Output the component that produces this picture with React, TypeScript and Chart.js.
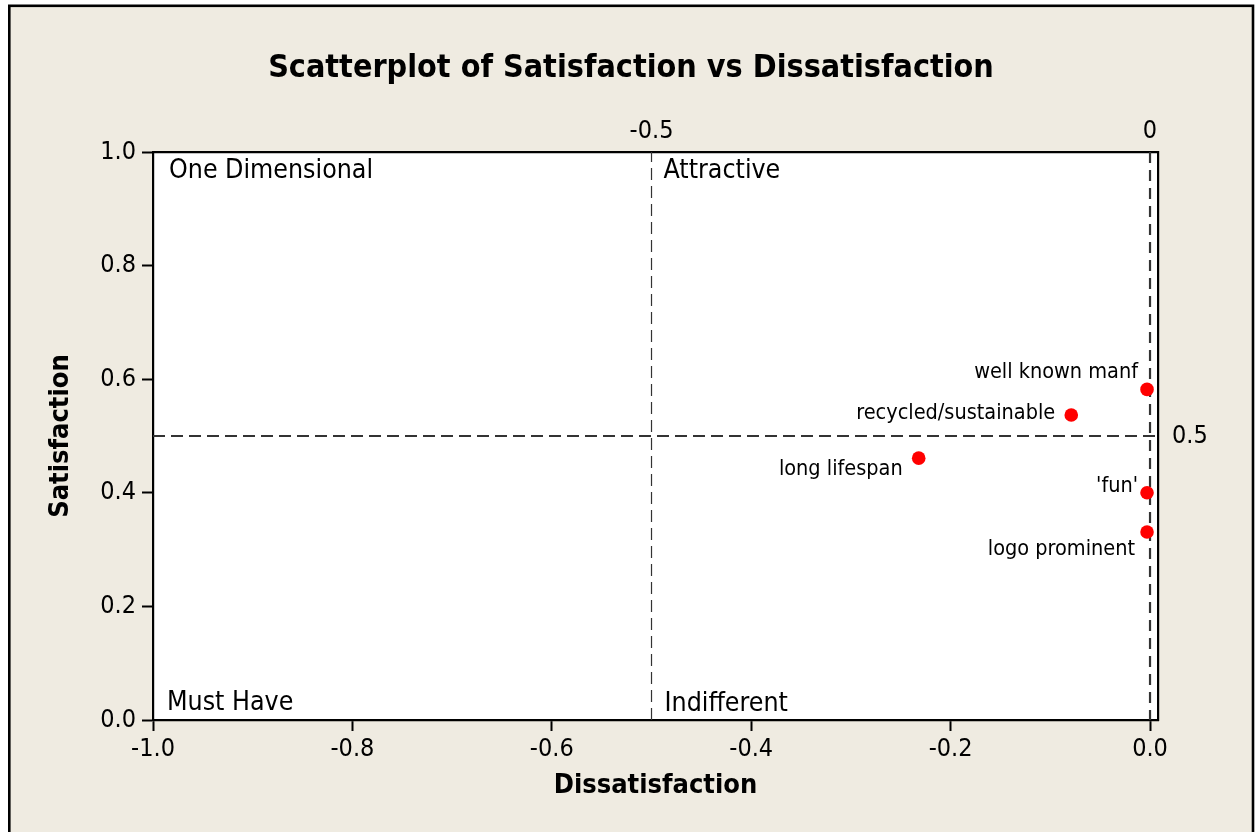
import React, { useEffect, useRef } from "react";
import { Chart, registerables } from "chart.js";

Chart.register(...registerables);

const W = 1255;
const H = 832;
const FONT = "'DejaVu Sans Condensed', 'DejaVu Sans', sans-serif";
const BG = "#EFEBE1";

// ---- data ----
const ITEMS = ["well known manf", "recycled/sustainable", "long lifespan", "'fun'", "logo prominent"];
const DISSATISFACTION = [-0.003, -0.079, -0.232, -0.003, -0.003];
const SATISFACTION = [0.582, 0.537, 0.461, 0.400, 0.331];

const X_MIN = -1.0;
const X_MAX = 0.008;
const Y_MIN = 0;
const Y_MAX = 1;
const X_TICKS = [-1.0, -0.8, -0.6, -0.4, -0.2, 0.0];
const Y_TICKS = [0.0, 0.2, 0.4, 0.6, 0.8, 1.0];
const X_REF = [-0.5, 0];
const Y_REF = [0.5];

const QUADRANTS = ["One Dimensional", "Attractive", "Must Have", "Indifferent"];
const TITLE = "Scatterplot of Satisfaction vs Dissatisfaction";

// label placement relative to its point: [dx, dy] (right-aligned text, baseline)
const LABEL_OFFSETS: [number, number][] = [
  [-9, -11],
  [-16, 4],
  [-16, 17],
  [-9, -1],
  [-12, 23],
];

const decorPlugin = {
  id: "decor",
  beforeDraw(chart: any) {
    const { ctx, chartArea } = chart;
    ctx.save();
    ctx.fillStyle = "#ffffff";
    ctx.fillRect(0, 0, W, H);
    ctx.fillStyle = BG;
    ctx.fillRect(9, 6, 1244, H);
    ctx.strokeStyle = "#000";
    ctx.lineWidth = 2.6;
    ctx.strokeRect(9.3, 5.8, 1243.7, H + 20);
    ctx.fillStyle = "#ffffff";
    ctx.fillRect(chartArea.left, chartArea.top, chartArea.right - chartArea.left, chartArea.bottom - chartArea.top);
    ctx.restore();
  },
  afterDraw(chart: any) {
    const { ctx, chartArea } = chart;
    const xs = chart.scales.x;
    ctx.save();
    // title
    ctx.fillStyle = "#000";
    ctx.font = `bold 32px ${FONT}`;
    ctx.textAlign = "center";
    ctx.textBaseline = "alphabetic";
    ctx.fillText(TITLE, 631, 77);

    // quadrant labels
    ctx.font = `26.5px ${FONT}`;
    ctx.textAlign = "left";
    const xMid = xs.getPixelForValue(X_REF[0]);
    ctx.fillText(QUADRANTS[0], chartArea.left + 16, chartArea.top + 26);
    ctx.fillText(QUADRANTS[1], xMid + 12, chartArea.top + 26);
    ctx.fillText(QUADRANTS[2], chartArea.left + 14, chartArea.bottom - 10);
    ctx.fillText(QUADRANTS[3], xMid + 13, chartArea.bottom - 9);

    // point labels
    const meta = chart.getDatasetMeta(0);
    ctx.font = `21.5px ${FONT}`;
    ctx.textAlign = "right";
    meta.data.forEach((pt: any, i: number) => {
      const [dx, dy] = LABEL_OFFSETS[i];
      ctx.fillText(ITEMS[i], pt.x + dx, pt.y + dy);
    });
    ctx.restore();
  },
};

export default function App() {
  const ref = useRef<HTMLCanvasElement | null>(null);

  useEffect(() => {
    document.body.style.margin = "0";
    if (!ref.current) return;
    Chart.defaults.font.family = FONT;
    const dashCommon = { showLine: true, pointRadius: 0, pointHoverRadius: 0, fill: false, order: 1 };
    const chart = new Chart(ref.current, {
      type: "scatter",
      data: {
        datasets: [
          {
            label: "items",
            data: DISSATISFACTION.map((x, i) => ({ x, y: SATISFACTION[i] })),
            backgroundColor: "#FF0000",
            borderColor: "#FF0000",
            borderWidth: 0,
            pointRadius: 6.8,
            order: 0,
          },
          {
            ...dashCommon,
            label: "h",
            data: [{ x: X_MIN, y: Y_REF[0] }, { x: X_MAX, y: Y_REF[0] }],
            borderColor: "#333333",
            borderWidth: 2.2,
            borderDash: [12, 6],
          },
          {
            ...dashCommon,
            label: "v1",
            data: [{ x: X_REF[0], y: Y_MIN }, { x: X_REF[0], y: Y_MAX }],
            borderColor: "#333333",
            borderWidth: 1.2,
            borderDash: [12, 6],
          },
          {
            ...dashCommon,
            label: "v2",
            data: [{ x: X_REF[1], y: Y_MAX }, { x: X_REF[1], y: Y_MIN }],
            borderColor: "#333333",
            borderWidth: 2.2,
            borderDash: [11, 7],
          },
        ] as any,
      },
      options: {
        animation: false,
        responsive: false,
        maintainAspectRatio: false,
        layout: { padding: 0 },
        plugins: { legend: { display: false }, tooltip: { enabled: false }, title: { display: false } },
        scales: {
          x: {
            type: "linear",
            position: "bottom",
            min: X_MIN,
            max: X_MAX,
            afterBuildTicks: (s: any) => { s.ticks = X_TICKS.map((v) => ({ value: v })); },
            afterFit: (s: any) => { s.height = 112; },
            ticks: { callback: (v: any) => Number(v).toFixed(1), color: "#000", font: { size: 25 }, padding: 3, maxRotation: 0, autoSkip: false },
            grid: { drawOnChartArea: false, drawTicks: true, tickLength: 11, tickWidth: 2, tickColor: "#000" },
            border: { display: true, color: "#000", width: 2.2 },
            title: { display: true, text: "Dissatisfaction", color: "#000", font: { size: 27, weight: "bold" }, padding: { top: 0, bottom: 30 } },
          },
          x2: {
            type: "linear",
            position: "top",
            min: X_MIN,
            max: X_MAX,
            afterBuildTicks: (s: any) => { s.ticks = X_REF.map((v) => ({ value: v })); },
            afterFit: (s: any) => { s.height = 152; },
            ticks: { callback: (v: any) => (Number(v) === 0 ? "0" : String(v)), color: "#000", font: { size: 25 }, padding: 6, maxRotation: 0, autoSkip: false },
            grid: { drawOnChartArea: false, drawTicks: false },
            border: { display: true, color: "#000", width: 2.2 },
          },
          y: {
            type: "linear",
            position: "left",
            min: Y_MIN,
            max: Y_MAX,
            afterBuildTicks: (s: any) => { s.ticks = Y_TICKS.map((v) => ({ value: v })); },
            afterFit: (s: any) => { s.width = 153; },
            ticks: { callback: (v: any) => Number(v).toFixed(1), color: "#000", font: { size: 25 }, padding: 6, autoSkip: false },
            grid: { drawOnChartArea: false, drawTicks: true, tickLength: 11, tickWidth: 2, tickColor: "#000" },
            border: { display: true, color: "#000", width: 2.2 },
            title: { display: true, text: "Satisfaction", color: "#000", font: { size: 27, weight: "bold" }, padding: { top: 45, bottom: 0 } },
          },
          y2: {
            type: "linear",
            position: "right",
            min: Y_MIN,
            max: Y_MAX,
            afterBuildTicks: (s: any) => { s.ticks = Y_REF.map((v) => ({ value: v })); },
            afterFit: (s: any) => { s.width = 97; },
            ticks: { callback: (v: any) => Number(v).toFixed(1), color: "#000", font: { size: 25 }, padding: 14, autoSkip: false },
            grid: { drawOnChartArea: false, drawTicks: false },
            border: { display: true, color: "#000", width: 2.2 },
          },
        },
      } as any,
      plugins: [decorPlugin],
    });
    return () => chart.destroy();
  }, []);

  return (
    <div style={{ position: "relative", width: W, height: H }}>
      <canvas ref={ref} width={W} height={H} style={{ width: W, height: H, display: "block" }} />
    </div>
  );
}
